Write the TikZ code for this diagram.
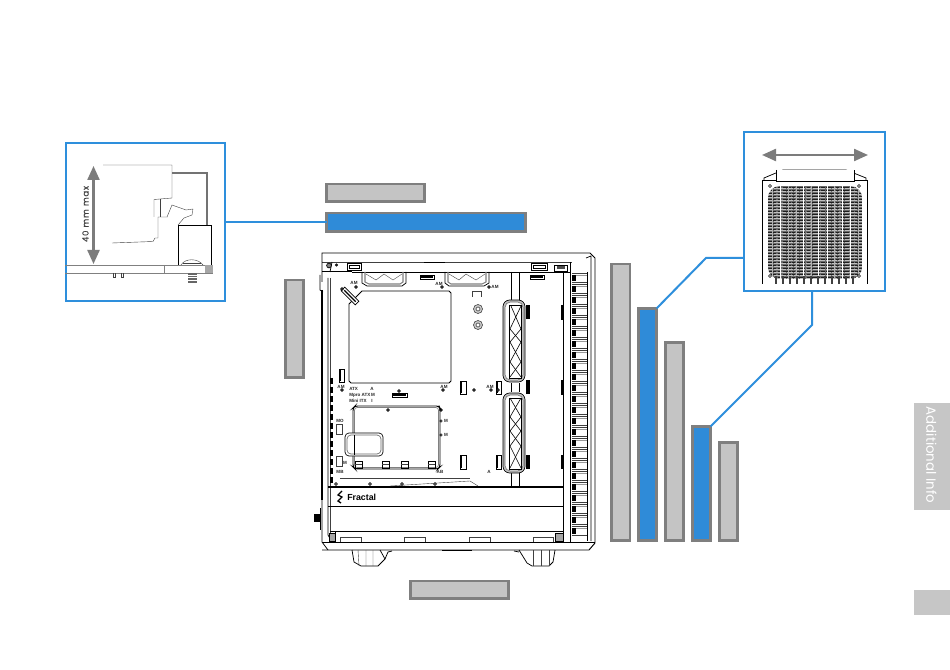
\documentclass[tikz,border=0pt]{standalone}
\usepackage{fontspec}
\setmainfont{Poppins}
\newfontfamily\tinyfont{Liberation Sans}
\newfontfamily\dimfont[LetterSpace=9,FakeBold=0.5]{Poppins}
\usetikzlibrary{fit,arrows.meta}
\definecolor{barblue}{HTML}{2F8BD8}
\definecolor{barfill}{HTML}{C4C4C4}
\definecolor{barline}{HTML}{7F7F7F}
\definecolor{insetblue}{HTML}{2E8FDC}
\definecolor{tabgrey}{HTML}{C6C6C6}
\definecolor{arrowgrey}{HTML}{7C7C7C}
\tikzset{
  greybar/.style={draw=barline,fill=barfill,line width=2.2pt,inner sep=0pt,outer sep=0pt},
  bluebar/.style={draw=barline,fill=barblue,line width=2.2pt,inner sep=0pt,outer sep=0pt},
  inset/.style={draw=insetblue,line width=1.5pt,inner sep=0pt,outer sep=0pt},
  link/.style={draw=insetblue,line width=1.5pt},
  tabbox/.style={fill=tabgrey,inner sep=0pt,outer sep=0pt},
  ink/.style={black,line width=.55pt},
  thin ink/.style={black!75,line width=.3pt},
  heavy/.style={black,line width=1.1pt},
  soft/.style={black!55,line width=.8pt},
  mini/.style={font=\tinyfont\bfseries\fontsize{3.4}{4}\selectfont,inner sep=0pt,text=black!85},
  dimarrow/.style={draw=arrowgrey,line width=1.7pt,{Triangle[width=9pt,length=10.5pt]}-{Triangle[width=9pt,length=10.5pt]}}
}
\begin{document}
\begin{tikzpicture}[x=.75pt,y=-.75pt]
\useasboundingbox (0,0) rectangle (950,670);
\fill[white] (0,0) rectangle (950,670);

% ---- label bars
\node[greybar,fit={(326.5,184)(424.5,201.5)}] (topgrey) {};
\node[bluebar,fit={(326.5,213)(525.5,231.5)}] (topblue) {};
\node[greybar,fit={(285.5,280)(303.5,377.5)}] (leftgrey) {};
\node[greybar,fit={(410.5,581)(508.5,598.5)}] (bottomgrey) {};
\node[greybar,fit={(611.5,264)(630,540.5)}] (vgreya) {};
\node[bluebar,fit={(638.5,308.5)(656.5,540.5)}] (vbluea) {};
\node[greybar,fit={(665.5,342.5)(683.5,540.5)}] (vgreyb) {};
\node[bluebar,fit={(692.5,426.5)(710.5,540.5)}] (vblueb) {};
\node[greybar,fit={(719.5,442.5)(737.5,540.5)}] (vgreyc) {};

% ---- insets
\node[inset,fit={(65.5,143.5)(224.5,301.5)}] (leftinset) {};
\node[inset,fit={(744,132)(885,291)}] (radinset) {};
\coordinate (bendA) at (706,258);
\coordinate (bendB) at (812,325);
\draw[link] (leftinset.east |- topblue.west) -- (topblue.west);
\draw[link] (vbluea.north east) -- (bendA) -- (bendA -| radinset.west);
\draw[link] (vblueb.north east) -- (bendB) -- (bendB |- radinset.south);

% ---- left inset drawing
\draw[dimarrow] (93.5,166) -- (93.5,264);
\node[rotate=90,font=\dimfont\fontsize{6.4}{8}\selectfont,inner sep=0pt,text=black!75] (dimtext) at (85.5,214) {40 mm max};
\draw[thin ink] (103,165) -- (172,165) -- (172,198) -- (154,199.5) -- (154,217);
\draw[thin ink] (160,199.5) -- (160,217);
\draw[thin ink] (112,243) -- (153,241.5) -- (155,238) -- (158,238) -- (158,217) -- (178,217);
\draw[soft,line width=.9pt] (172,173) -- (207,173) -- (207,225);
\draw[thin ink,fill=white] (167,217) -- (172,205) -- (186,210) -- (193,209) -- (192,215) -- (184,218) -- (178,225);
\draw[ink,fill=white] (178,225) rectangle (211,265);
\draw[thin ink] (181,265) .. controls (185,258) and (198,258) .. (203,265);
\draw[thin ink] (183,263) -- (201,263);
\draw[black!50,line width=.4pt] (65,265) -- (212,265) (65,273) -- (213,273) (164,265) -- (164,273);
\fill[black!35] (205,265) rectangle (213,273);
\draw[thin ink] (113,273) -- (113,277) -- (115,277) -- (115,273) (121,273) -- (121,277) -- (123,277) -- (123,273);
\fill[black!60] (188,273) rectangle (197,283);
\foreach \yy in {275,277.5,280} \draw[white,line width=.4pt] (188,\yy) -- (197,\yy);

% ---- radiator inset drawing
\draw[dimarrow] (762,155) -- (868,155);
\draw[ink] (764,180) -- (764,178) -- (783,170) -- (846,170) -- (866,178) -- (866,180);
\draw[ink] (762,180) -- (867,180) (762,180) -- (762,284) (867,180) -- (867,284);
\begin{scope}
  \clip[rounded corners=9pt] (768,186) rectangle (862,279);
  \fill[black!58] (768,186) rectangle (862,280);
  \foreach \yy in {187,190,...,280} \draw[black!88,line width=.55pt,dash pattern=on 6pt off 1.2pt on 2.5pt off 1.2pt] (768,\yy) -- (862,\yy);
  \foreach \yy in {188.5,191.5,...,280} \draw[black!25,line width=.5pt,dash pattern=on 4pt off .8pt] (768,\yy) -- (862,\yy);
  \foreach \xx in {772,788,796,811,834,858} \draw[black!30,line width=.45pt] (\xx,186) -- (\xx,280);
  \foreach \xx in {780,803,818,827,842,850} \draw[white,line width=.6pt] (\xx,186) -- (\xx,280);
\end{scope}
\draw[ink,line width=.7pt,fill=white] (776,170) -- (776,181) -- (854,181) -- (854,170);
\foreach \xx in {776,783,790,797,804,811,818,825,832,839,846,853} \draw[black!75,line width=1pt] (\xx,276) -- (\xx,284);
\foreach \px/\py in {770/186,859/186,770/276,859/276} \draw[black,line width=.4pt,fill=white] (\px,\py) circle (1.5);

% ---- case: outer shell
\draw[ink,line width=.7pt] (322,262) -- (322,253) -- (590,253) -- (595,258) -- (595,543) -- (589,550) -- (322,550);
\draw[thin ink] (322,262) -- (572,262);
\draw[ink] (322,271) -- (352,271) (352,272) -- (570,272);
\draw[ink] (332,262) -- (330,272);
\draw[ink] (322,262) -- (322,282) (320,275) -- (320,290) -- (323,292);
\draw[heavy] (322,290) -- (322,500);
\draw[ink] (328,278) -- (328,535) -- (332,542);
\draw[thin ink] (330.5,278) -- (330.5,534);
\draw[ink] (322,500) -- (322,542) -- (328,550);
\draw[ink] (322,542) -- (595,542);
\draw[ink] (563,272) -- (563,542);
\draw[ink] (570,262) -- (570,542);
\draw[ink] (586,258) -- (591,256) -- (591,541);
\draw[ink] (587,272) -- (587,541);

% right-hand vent slats
\foreach \yy in {275,286,297,308,319,330,341,352,363,374,385,396,407,418,429,440,451,462,473,484,495,506,517,528} {
  \fill[black] (572,\yy) rectangle (575.5,\yy+6);
  \draw[thin ink] (572,\yy-1.5) -- (587,\yy-1.5) (572,\yy+7) -- (587,\yy+7);
  \draw[black!40,line width=.35pt] (575.5,\yy+.5) -- (587,\yy+.5);
}

% side ribs on left rail
\foreach \yy in {378,387,396,405,414,423,432,441,450,459,468,477}
  \draw[black,line width=2pt] (331.5,\yy) -- (331.5,\yy+6);
\fill[black] (320.5,298) rectangle (322.5,352);
\fill[black] (314,514) rectangle (320.5,522);
\draw[ink] (320.5,508) -- (320.5,530);

% top fittings
\draw[ink,fill=white] (347,263) rectangle (361,270);
\draw[ink] (349,265.5) rectangle (359,268);
\draw[ink,fill=white] (531,263) rectangle (547,270);
\draw[ink] (533,265) rectangle (545,268);
\draw[ink,fill=white] (554,265) rectangle (567,271);
\fill[black!70] (557,266.5) rectangle (565,269.5);
\draw[black,line width=.5pt,fill=black!50] (329,265.5) circle (2.4);
\draw[black,line width=.5pt,fill=black!50] (336.5,265) circle (1.2);
\draw[heavy,line width=1.2pt] (424,262.5) -- (445,262.5);

% top fan cut-outs
\draw[ink] (362,272) -- (362,283) -- (367,286) -- (402,286) -- (406,283) -- (406,272);
\draw[black!50,line width=.8pt] (365,272) -- (365,282) -- (369,284) -- (400,284) -- (403,282) -- (403,272);
\draw[thin ink] (366,274) -- (376,280) -- (384,274) -- (393,280) -- (402,274);
\draw[ink] (445,272) -- (445,283) -- (449,286) -- (484,286) -- (489,283) -- (489,272);
\draw[black!50,line width=.8pt] (448,272) -- (448,282) -- (451,284) -- (482,284) -- (486,282) -- (486,272);
\draw[thin ink] (449,274) -- (459,280) -- (466,274) -- (476,280) -- (485,274);

% main panel opening
\draw[ink] (349,304) -- (362,291) -- (449,291) -- (451,293) -- (451,381) -- (449,383) -- (351,383) -- (349,381) -- cycle;

% small cable slots
\foreach \xa/\ya/\xb/\yb in {420/275/434/279,530/275/544/279,392/393/407/397}{
  \draw[ink,fill=white] (\xa,\ya) rectangle (\xb,\yb);
  \fill[black] (\xa+1,\ya+1) rectangle (\xb-1,\yb-1);
}
\foreach \xa/\ya/\xb/\yb in {340/369/343/382,461/381/465/394,497/381/500/394,461/455/465/469,497/455/500/469}{
  \draw[ink,fill=white] (\xa-1,\ya) rectangle (\xb+1,\yb);
  \draw[black,line width=.9pt] (\xa,\ya+1) -- (\xa,\yb-1);
}
\foreach \ya/\yb in {305/320,380/395,455/469} \draw[black,line width=1pt] (562,\ya) -- (562,\yb);
\draw[ink,fill=white,rotate around={-45:(350,296)}] (340,293.5) rectangle (360,298.5);
\draw[black,line width=.9pt,rotate around={-45:(350,296)}] (342,296) -- (358,296);

% standoffs and markings
\foreach \px/\py in {356/287,442/287,489/287,342/289,342/390,443/390,399/391,474/390,491/390,498/390,388/410,441/410}{
  \draw[black,line width=.5pt,fill=black!45] (\px,\py) circle (1.4);
}
\foreach \px/\py in {441/421,441/435}{
  \draw[black,line width=.4pt,fill=white] (\px,\py) circle (1.3);
}
\node[mini] (am1) at (354,283) {AM};
\node[mini] (am2) at (439,283.5) {AM};
\node[mini] (am3) at (495,287) {AM};
\node[mini] (am4) at (341,387) {AM};
\node[mini] (am5) at (444,387) {AM};
\node[mini] (am6) at (490,387) {AM};
\node[mini,anchor=west] (atx) at (349,389) {ATX};
\node[mini,anchor=west] (matx) at (349,395) {Mpro ATX};
\node[mini,anchor=west] (itx) at (349,401) {Mini ITX};
\node[mini] (ma) at (372,389) {A};
\node[mini] (mm) at (373,395) {M};
\node[mini] (mi) at (372,401) {I};
\node[mini] (mb) at (446,421) {M};
\node[mini] (mc) at (446,435) {M};
\node[mini] (mo) at (340,421) {MO};
\node[mini] (ms) at (345,463) {M};
\node[mini] (ma2) at (340,472) {MB};
\node[mini] (ma3) at (440,472) {AB};
\node[mini] (ma4) at (489,472) {A};

% round grommet holes
\foreach \py in {309,325}{
  \draw[black!70,line width=.5pt,fill=black!20] (478,\py) circle (4.5);
  \draw[black!70,line width=.5pt,fill=white] (478,\py) circle (2);
}
\draw[thin ink] (472,291) -- (472,297) (481,291) -- (481,297) (472,291) -- (481,291);

% rear-plate (lower opening)
\draw[ink,line width=.7pt,rounded corners=2pt] (353,408) -- (355,406) -- (439,406) -- (440,408) -- (440,467) -- (438,469) -- (355,469) -- (353,467) -- cycle;
\draw[black!50,line width=.5pt,rounded corners=2pt] (354.5,407.5) rectangle (438.5,467.5);
\draw[black,line width=.5pt,rounded corners=3pt,fill=white] (345,433) rectangle (383,456);
\draw[black!60,line width=.5pt,rounded corners=3pt] (347,435) rectangle (381,454);
\draw[black,line width=.7pt] (354,435) -- (354,455);
\draw[thin ink] (336,424) rectangle (342,434) (336,456) rectangle (342,466);
\foreach \xx in {355,382,401,428}{
  \draw[ink] (\xx,461) rectangle (\xx+7,468);
  \draw[thin ink] (\xx,464.5) -- (\xx+7,464.5);
}

% vertical tubes & fan brackets
\draw[ink] (511,272) -- (511,300) (519,272) -- (519,300);
\draw[ink] (511,383) -- (511,392) (519,383) -- (519,392);
\draw[ink] (511,473) -- (511,486) (519,473) -- (519,486);
\foreach \ya/\yb in {300/382,393/473}{
  \draw[black,line width=.5pt,rounded corners=5pt,fill=black!25] (503,\ya) rectangle (525,\yb);
  \draw[black!60,line width=.4pt,rounded corners=4pt,fill=white] (505,\ya+2) rectangle (523,\yb-2);
  \fill[black!25] (521,\ya+12) rectangle (523,\yb-12);
  \draw[black,line width=.5pt] (509,\ya+5) rectangle (521,\yb-4);
  \draw[black,line width=1.2pt] (509.5,\ya+5) -- (509.5,\yb-4);
}
\draw[black,line width=.45pt] (511,306) -- (521,329) -- (510,342) -- (521,362) -- (510,377);
\draw[black,line width=.45pt] (521,306) -- (510,329) -- (521,342) -- (510,362) -- (521,377);
\draw[black,line width=.45pt] (521,398) -- (510,417) -- (521,431) -- (510,446) -- (521,468);
\draw[black,line width=.45pt] (510,398) -- (521,417) -- (510,431) -- (521,446) -- (510,468);
\fill[black] (526,305) rectangle (530,319);
\fill[black] (526,380) rectangle (530,394);
\fill[black] (526,455) rectangle (530,469);

% PSU shroud
\draw[heavy] (328,487) -- (563,487);
\draw[ink] (328,506.5) -- (563,506.5);
\draw[ink] (330,531) -- (563,531);
\draw[ink] (335,542) -- (335,532);
\draw[thin ink] (340,478) -- (470,478);
\draw[thin ink] (390,486) -- (470,481) -- (478,486);
\foreach \px in {336,370,402,435} \draw[black,line width=.4pt,fill=black!45] (\px,484) circle (1.4);
\draw[ink,fill=black!35] (329,533) rectangle (335,541);
\draw[ink,fill=black!35] (555,533) rectangle (563,541);
\draw[thin ink] (340,542) -- (340,537) -- (361,537) -- (361,542) (404,542) -- (404,537) -- (425,537) -- (425,542);
\draw[thin ink] (469,542) -- (469,537) -- (490,537) -- (490,542) (533,542) -- (533,537) -- (553,537) -- (553,542);
% logo
\node[font=\tinyfont\bfseries\fontsize{6.6}{9}\selectfont,inner sep=0pt,anchor=west] (logo) at (347,497) {Fractal};
\draw[black,line width=1pt] (342,491) -- (338,495) -- (342,497) -- (338,501) -- (341,503);

% feet
\draw[ink] (352,550) -- (354,562) -- (361,566) -- (378,566) -- (385,559) -- (380,550);
\draw[thin ink] (358,550) -- (359,566) (366,550) -- (366,566) (373,550) -- (373,566);
\draw[ink] (519,550) -- (527,563) -- (532,566) -- (549,566) -- (553,562) -- (555,550);
\draw[thin ink] (533,550) -- (533,566) (541,550) -- (541,566) (549,550) -- (549,566);
\draw[heavy] (442,550.5) -- (472,550.5);
\draw[ink] (385,559) -- (388,552) -- (392,551);
\draw[ink] (519,552) -- (514,551);

% side tabs
\node[tabbox,fit={(914,403)(950,510)}] (tabinfo) {};
\node[tabbox,fit={(914,590)(950,615)}] (tabblank) {};
\node[rotate=-90,font=\fontsize{10}{11}\selectfont,text=white,inner sep=0pt] (tabtext) at (931.5,455) {Additional Info};
\end{tikzpicture}
\end{document}
